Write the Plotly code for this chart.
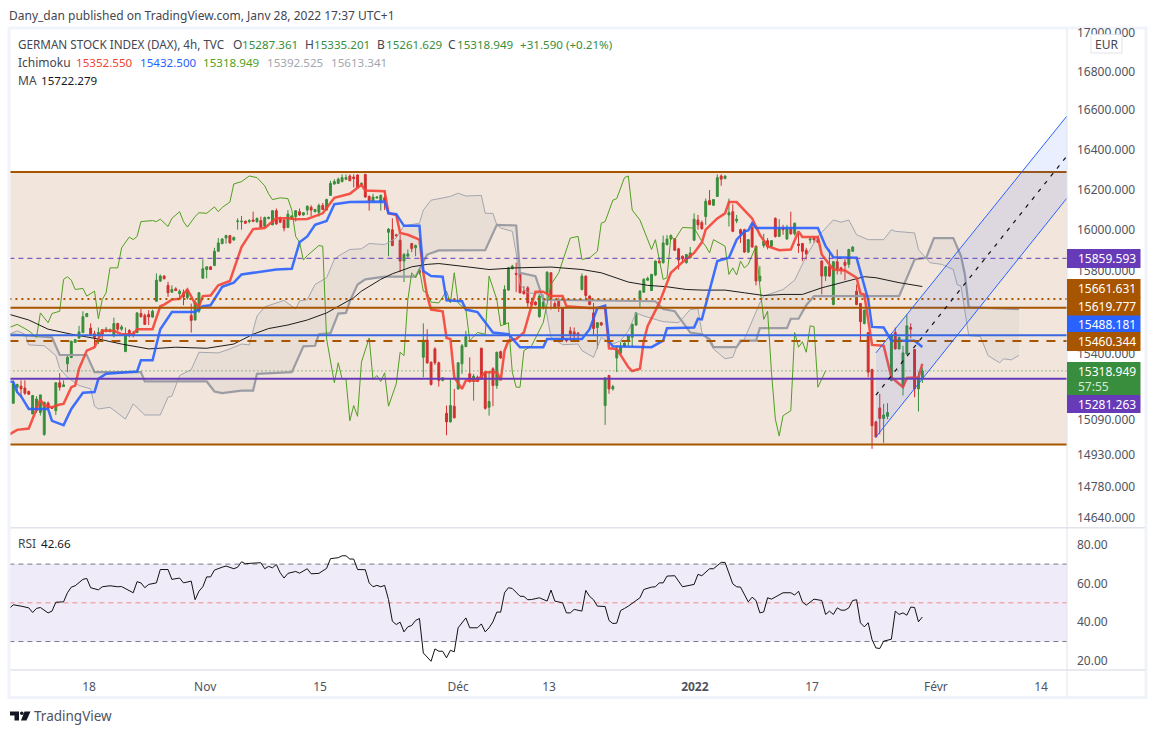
import plotly.graph_objects as go

W, H = 1155, 734
FONT = "Noto Sans"

# ---- candles (4h bars, index = bar number) ----
opens = [
15167,15242,15247,15238,15222,15117,15132,15124,15022,15168,
15148,15132,15263,15245,15352,15382,15454,15475,15501,15577,
15522,15495,15493,15514,15509,15506,15486,15544,15517,15410,
15511,15498,15501,15592,15583,15588,15575,15651,15749,15773,
15728,15695,15711,15687,15692,15668,15583,15561,15603,15763,
15805,15818,15825,15894,15932,15959,15971,15949,16040,16039,
16042,16040,16048,16039,16045,16016,16055,16024,16094,16056,
16048,16011,16056,16065,16089,16073,16097,16111,16089,16086,
16120,16097,16170,16227,16230,16239,16251,16267,16262,16272,
16223,16275,16165,16142,16157,16142,16158,15987,16000,15975,
15948,15846,15870,15932,15911,15800,15383,15465,15360,15423,
15357,15274,15120,15080,15153,15234,15352,15434,15305,15269,
15289,15426,15313,15148,15329,15250,15410,15540,15705,15810,
15786,15781,15700,15716,15647,15647,15577,15619,15692,15789,
15640,15651,15619,15470,15509,15504,15498,15708,15773,15676,
15595,15525,15548,15156,15297,15234,15380,15402,15434,15462,
15478,15537,15659,15695,15753,15703,15778,15846,15838,15927,
15954,15954,15906,15870,15838,15862,15948,16048,16035,16065,
16145,16121,16165,16267,16254,16073,16089,16043,16000,16000,
15890,16011,15919,15749,15922,15946,15919,16056,15967,16008,
15954,16003,15980,15930,15932,15899,15949,15959,15951,15846,
15773,15821,15635,15843,15813,15841,15830,15894,15700,15640,
15544,15501,15325,15080,15145,15096,15106,15274,15501,15423,
15250,15399,15525,15420,15234,15287.361]
highs = [
15274,15258,15274,15274,15226,15206,15200,15206,15172,15175,
15150,15263,15308,15274,15391,15462,15470,15533,15603,15595,
15545,15509,15525,15517,15528,15520,15572,15548,15537,15525,
15517,15509,15599,15614,15592,15608,15611,15786,15781,15778,
15745,15728,15719,15708,15708,15711,15640,15659,15695,15854,
15821,15821,15911,15959,15959,15975,15974,15966,16056,16068,
16045,16052,16089,16060,16065,16065,16065,16097,16105,16065,
16052,16097,16071,16097,16105,16087,16121,16121,16103,16129,
16132,16154,16243,16251,16259,16275,16275,16275,16275,16275,
16235,16278,16170,16178,16165,16175,16194,16008,16056,15980,
15975,15886,15903,15935,15927,15805,15545,15517,15363,15431,
15363,15289,15156,15281,15234,15360,15446,15509,15383,15305,
15297,15429,15316,15313,15336,15410,15415,15728,15818,15828,
15838,15786,15724,15724,15668,15651,15684,15668,15796,15792,
15651,15668,15622,15473,15528,15525,15504,15786,15776,15679,
15643,15551,15551,15289,15300,15253,15438,15457,15454,15493,
15544,15599,15705,15763,15770,15784,15849,15862,15971,15974,
15977,15958,15911,15873,15881,15915,16081,16073,16045,16154,
16197,16152,16275,16275,16270,16154,16126,16073,16005,16005,
15954,16032,15922,15821,15980,15959,15949,16061,16052,16024,
16024,16089,16035,15980,15935,15911,15964,15964,15964,15849,
15821,15903,15846,15903,15818,15857,15906,15919,15732,15643,
15611,15504,15329,15085,15211,15164,15167,15493,15525,15481,
15438,15588,15545,15423,15313,15335.201]
lows = [
15164,15219,15195,15206,15206,15117,15121,15109,15015,15140,
15140,15112,15226,15244,15313,15379,15451,15470,15498,15575,
15486,15431,15446,15470,15501,15501,15478,15509,15509,15410,
15478,15478,15498,15572,15537,15537,15572,15651,15744,15757,
15672,15692,15700,15659,15632,15659,15501,15558,15595,15760,
15762,15804,15821,15891,15928,15932,15932,15946,16000,16000,
16029,16032,16037,16035,16008,16011,16052,16022,16024,16032,
15992,16008,16053,16040,16068,16069,16073,16068,16086,16065,
16097,16097,16170,16223,16227,16235,16246,16243,16210,16207,
16218,16158,16094,16137,16154,16094,16097,15870,15919,15965,
15792,15744,15862,15890,15870,15780,15289,15352,15250,15347,
15245,15270,15018,15077,15096,15231,15305,15431,15263,15179,
15266,15278,15137,15109,15153,15234,15376,15540,15702,15805,
15695,15689,15684,15624,15632,15630,15572,15611,15659,15611,
15614,15599,15457,15454,15462,15462,15470,15703,15651,15632,
15489,15423,15533,15066,15211,15226,15313,15399,15431,15438,
15431,15533,15624,15692,15749,15700,15773,15834,15834,15922,
15951,15896,15805,15838,15834,15859,15945,16000,16000,16024,
16124,16118,16162,16218,16251,16016,15988,16032,15935,15886,
15886,15911,15728,15744,15911,15903,15915,15961,15964,15975,
15951,15975,15971,15886,15846,15854,15932,15935,15935,15684,
15749,15770,15632,15781,15781,15753,15813,15891,15632,15462,
15540,15289,14955,15007,15022,14983,15093,15270,15420,15420,
15203,15395,15473,15195,15128,15261.629]
closes = [
15258,15255,15234,15214,15209,15203,15187,15206,15172,15143,
15143,15263,15242,15253,15383,15459,15467,15504,15577,15592,
15492,15478,15501,15493,15517,15514,15544,15517,15528,15490,
15486,15489,15595,15577,15540,15575,15603,15753,15773,15760,
15692,15708,15703,15700,15672,15705,15559,15647,15692,15809,
15818,15805,15894,15935,15954,15971,15935,15962,16043,16042,
16032,16045,16042,16056,16013,16060,16061,16094,16029,16037,
16008,16077,16068,16094,16073,16084,16116,16097,16100,16120,
16100,16149,16230,16239,16251,16259,16259,16243,16254,16210,
16230,16162,16142,16162,16162,16170,16145,16003,15922,15970,
15846,15878,15881,15907,15922,15790,15465,15357,15255,15357,
15274,15286,15080,15156,15099,15357,15438,15481,15269,15294,
15269,15281,15143,15175,15250,15407,15380,15708,15813,15821,
15781,15692,15687,15643,15635,15634,15676,15647,15792,15663,
15619,15627,15470,15462,15493,15486,15486,15773,15679,15635,
15520,15548,15537,15286,15234,15245,15420,15431,15451,15486,
15540,15595,15700,15757,15762,15781,15846,15838,15935,15954,
15971,15899,15851,15857,15878,15886,16052,16024,16005,16141,
16124,16149,16259,16251,16267,16084,15992,16052,15980,15890,
15951,15915,15749,15773,15943,15915,15946,15967,16005,16000,
16008,15980,16032,15922,15894,15881,15954,15951,15938,15773,
15818,15773,15843,15809,15805,15825,15903,15915,15635,15553,
15608,15313,15062,15010,15096,15112,15124,15486,15423,15478,
15404,15533,15517,15234,15289,15318.949]
bars = list(range(len(opens)))

# ---- Ichimoku lines ----
tenkan_x = [-1,1,4,5,7,8,10,12,13,15,16,17,19,21,23,26,28,31,32,36,38,39,41,43,45,47,48,49,51,53,56,59,62,65,68,71,73,76,80,83,87,90,91,96,97,99,100,102,105,106,107,108,111,112,113,114,116,117,120,122,125,126,127,128,130,132,134,135,137,139,142,143,149,153,154,156,159,160,162,163,164,167,170,173,176,178,179,182,184,185,187,190,191,193,195,198,201,203,204,208,209,212,215,218,219,220,222,225,227,230,231,234,235]
tenkan_y = [15022,15043,15049,15093,15184,15156,15148,15161,15164,15242,15250,15329,15415,15431,15509,15509,15493,15493,15517,15517,15627,15635,15659,15663,15708,15640,15627,15676,15679,15728,15749,15915,16003,16008,16056,16056,16052,16053,16081,16158,16178,16223,16194,16191,16081,16073,15984,15975,15951,15789,15676,15611,15603,15475,15470,15289,15234,15274,15274,15313,15313,15274,15415,15462,15470,15501,15627,15697,15697,15676,15676,15627,15619,15619,15426,15423,15336,15318,15329,15462,15533,15643,15789,15841,15886,15938,16000,16056,16081,16137,16137,16077,16056,15975,15919,15899,15903,15992,15964,15964,15878,15805,15800,15765,15689,15684,15442,15438,15289,15242,15286,15289,15352.55]
kijun_x = [-1,0,1,2,4,9,10,13,15,18,21,22,24,32,33,36,38,41,47,49,51,54,57,59,68,72,74,76,78,81,83,87,96,97,99,101,105,106,108,111,112,116,117,120,124,128,131,137,138,147,149,151,153,154,155,165,168,169,176,177,178,180,182,185,187,189,190,191,192,208,210,212,218,221,222,225,227,233,235]
kijun_y = [15269,15266,15219,15200,15140,15140,15085,15065,15140,15216,15219,15281,15305,15316,15369,15369,15517,15599,15599,15627,15632,15721,15741,15781,15805,15809,15938,15967,16024,16043,16126,16137,16139,16081,16077,16019,16019,15797,15773,15770,15656,15651,15611,15599,15501,15493,15431,15431,15470,15470,15517,15619,15630,15457,15435,15431,15462,15522,15525,15567,15564,15700,15846,15862,15951,15992,15996,16032,16008,16008,15919,15865,15862,15660,15528,15525,15462,15462,15432.5]
chikou_x = [-1,1,3,4,6,7,9,10,12,13,14,15,16,18,19,21,22,23,24,25,27,28,30,31,32,33,36,37,38,40,41,43,44,45,47,48,50,52,53,54,56,57,59,61,63,65,66,67,69,71,72,73,74,75,76,78,79,80,81,83,84,85,86,87,88,89,90,92,93,94,95,96,97,99,100,101,102,103,104,105,106,107,108,110,112,113,114,115,117,118,120,122,123,125,126,128,129,130,131,132,134,137,139,141,143,144,146,147,149,151,152,153,155,156,158,159,160,162,165,166,168,169,170,171,173,176,178,179,180,181,184,185,186,187,188,189,190,192,193,194,195,196,197,198,199,201,202,203,204,205,206,207,208,210]
chikou_y = [15525,15540,15520,15509,15478,15595,15548,15592,15603,15757,15770,15753,15708,15713,15676,15700,15567,15659,15692,15813,15813,15911,15964,15951,15967,16040,16045,16040,16052,16016,16056,16089,16040,16013,16065,16084,16081,16113,16089,16110,16137,16227,16239,16267,16259,16218,16178,16149,16158,16154,16097,15967,15938,15851,15873,15903,15922,15919,15470,15263,15357,15281,15281,15085,15156,15106,15360,15475,15278,15297,15269,15310,15153,15258,15407,15391,15659,15789,15765,15805,15700,15692,15647,15643,15700,15643,15789,15643,15611,15462,15501,15493,15773,15659,15533,15548,15313,15242,15242,15415,15438,15548,15732,15789,15903,15959,15967,15854,15862,15894,16032,16040,16146,16154,16259,16267,16097,16048,15903,15951,15757,15765,15967,15951,16011,16008,15943,15919,15886,15951,15919,15781,15813,15778,15846,15813,15830,15919,15724,15564,15603,15313,15093,15015,15109,15132,15501,15431,15457,15407,15533,15529,15242,15318.949]
span_a_x = [-1,1,3,4,8,11,12,14,17,20,21,22,25,29,31,34,38,40,41,43,46,48,53,56,59,61,63,65,70,73,74,76,78,81,83,84,87,90,92,96,99,101,105,106,108,113,115,117,121,122,124,125,126,129,130,131,133,137,138,139,142,146,147,150,152,155,157,159,161,163,168,172,175,177,178,180,181,184,186,187,189,193,194,199,202,205,208,212,214,216,218,221,225,227,228,233,234,237,240,243,244,245,247,250,252,255,256,258,260]
span_a_y = [15493,15509,15493,15442,15438,15391,15329,15289,15250,15234,15153,15140,15148,15093,15164,15112,15112,15195,15200,15297,15325,15407,15404,15423,15446,15442,15580,15624,15655,15614,15653,15659,15732,15765,15854,15870,15903,15906,15932,15927,15959,16019,16032,16097,16146,16165,16181,16167,16170,16081,16081,16024,16008,15992,15886,15732,15692,15684,15580,15478,15443,15446,15415,15383,15478,15446,15462,15509,15595,15580,15553,15548,15611,15616,15501,15454,15423,15376,15383,15431,15470,15643,15676,15708,15753,15870,15967,16048,16037,16048,15975,15951,15951,16000,15992,15984,15903,15838,15830,15805,15732,15724,15486,15482,15391,15357,15376,15371,15392.525]
span_b_x = [-1,10,12,19,21,33,34,50,52,54,59,62,63,72,75,78,79,82,84,86,87,89,91,96,104,107,110,122,125,130,131,135,137,166,168,171,175,178,180,181,187,188,192,193,200,201,203,205,207,229,233,236,238,243,245,246,247,260]
span_b_y = [15493,15478,15394,15394,15313,15313,15269,15269,15222,15214,15226,15226,15305,15313,15435,15438,15493,15498,15592,15595,15651,15732,15757,15770,15770,15878,15898,15899,16024,16021,15789,15773,15659,15651,15614,15603,15501,15493,15470,15431,15431,15462,15462,15522,15522,15567,15567,15632,15676,15676,15854,15862,15959,15959,15870,15781,15622,15613.341]

# ---- moving average ----
ma_x = [-1,4,9,15,22,28,35,42,50,57,62,66,71,76,81,85,88,90,95,98,103,107,110,116,123,130,139,147,152,159,164,169,174,178,184,189,194,199,204,209,215,220,223,229,235]
ma_y = [15588,15561,15517,15493,15470,15446,15423,15431,15426,15446,15493,15520,15537,15561,15595,15635,15668,15700,15757,15784,15818,15830,15834,15821,15805,15813,15817,15805,15789,15744,15728,15721,15708,15705,15705,15692,15679,15684,15684,15716,15745,15770,15765,15741,15722.279]

# ---- RSI ----
rsi_x = [-1,0,2,4,5,6,7,9,10,11,13,14,15,16,18,19,20,22,23,25,27,28,31,32,33,34,35,37,38,40,41,43,44,46,47,48,49,50,51,52,54,55,57,58,59,60,62,64,65,66,67,68,69,70,71,73,74,76,77,79,81,82,84,85,86,87,88,89,91,92,93,94,95,96,97,98,99,100,101,102,103,104,105,106,108,109,110,111,112,113,114,115,117,118,120,121,122,123,124,125,126,127,128,129,131,132,133,134,136,138,139,140,142,143,144,145,147,148,149,150,151,153,154,155,156,157,158,159,162,163,165,166,167,168,169,171,173,174,176,177,178,180,181,183,184,186,187,188,190,191,192,193,194,195,196,199,201,202,203,204,205,207,209,210,211,212,213,214,215,216,217,218,219,220,221,222,223,224,225,227,228,229,230,231,232,233,234,235]
rsi_y = [47.1,49.0,48.3,47.4,45.0,47.1,47.6,44.8,45.7,50.3,50.5,55.2,58.1,58.8,62.1,62.6,57.8,56.7,58.3,58.8,58.3,58.4,55.2,60.9,60.3,57.8,59.5,60.3,67.2,67.2,62.1,62.8,60.3,61.2,51.6,56.0,58.3,63.4,63.4,66.9,68.4,69.0,67.6,68.4,71.2,70.2,70.5,70.7,67.6,68.8,68.1,69.8,65.5,62.8,65.2,66.2,65.3,67.6,65.0,65.2,67.8,72.8,73.3,74.3,74.3,72.6,72.6,67.2,67.1,60.3,58.3,59.0,58.3,59.0,51.7,40.5,38.8,40.0,35.0,37.6,38.3,40.9,41.9,24.1,19.8,26.2,25.0,25.0,21.6,25.5,24.7,37.1,42.2,37.1,37.1,39.1,35.0,37.1,40.2,45.2,45.2,55.2,57.8,57.4,53.4,53.3,51.6,51.7,52.6,50.9,56.6,50.9,50.0,44.8,44.8,46.6,45.7,56.4,53.3,51.6,48.3,48.1,40.9,39.3,39.5,46.0,47.1,48.3,52.6,56.9,58.1,58.3,60.3,60.3,63.8,64.0,58.3,58.6,59.5,64.7,64.0,67.6,67.6,70.9,70.9,59.8,58.3,58.1,50.5,52.9,51.2,44.8,45.3,52.6,51.9,55.2,55.2,54.0,56.0,50.5,48.8,51.9,51.2,44.0,45.7,44.0,47.4,46.2,46.2,47.4,51.2,51.6,39.7,37.6,39.7,31.0,26.7,26.4,30.2,31.2,45.7,44.0,44.8,43.6,47.8,47.6,40.2,42.66]

# ---- drawn levels and channel ----
zone_top, zone_bottom = 16287, 14975
level_purple_dash = 15859.593
level_brown_dot = 15661.631
level_brown_solid = 15619.777
level_blue = 15488.181
level_brown_dash = 15460.344
level_green_dot = 15318.949
level_purple_solid = 15281.263
channel_x = [223, 272.4]
channel_upper = [15404, 16571]
channel_mid = [15205, 16368]
channel_lower = [15010, 16157]

# ---- axis labels ----
price_ticks = [17000,16800,16600,16400,16200,16000,15800,15400,15090,14930,14780,14640]
rsi_ticks = [80,60,40,20]
date_ticks = [19.6,49.6,79.3,115,138.5,176.2,206.5,238.5,265.7]
date_labels = ["18","Nov","15","Déc","13","<b>2022</b>","17","Févr","14"]

BROWN = "#a85500"; PURPLE = "#673ab7"; BLUE = "#2962ff"; GREEN = "#388e3c"
INK = "#434651"

def px(x): return x / W
def py(y): return 1 - y / H

LEFT, RIGHT, TOP, MID, BOT = 10.5, 1067, 29, 527.7, 670

fig = go.Figure()
XR = [-0.72, 272.4]
X2 = [-1, 273]

# cloud
fig.add_trace(go.Scatter(x=span_a_x, y=span_a_y, mode="lines", line=dict(color="#a3a6af", width=1)))
fig.add_trace(go.Scatter(x=span_b_x, y=span_b_y, mode="lines", line=dict(color="#9b9ca4", width=2.2),
                         fill="tonexty", fillcolor="rgba(120,123,134,0.08)"))
# candles
fig.add_trace(go.Candlestick(x=bars, open=opens, high=highs, low=lows, close=closes, whiskerwidth=0,
    increasing=dict(line=dict(color=GREEN, width=1), fillcolor=GREEN),
    decreasing=dict(line=dict(color="#d32f2f", width=1), fillcolor="#d32f2f")))
# ichimoku lines and MA
fig.add_trace(go.Scatter(x=chikou_x, y=chikou_y, mode="lines", line=dict(color="#4f9f20", width=1)))
fig.add_trace(go.Scatter(x=ma_x, y=ma_y, mode="lines", line=dict(color="#1c1c1c", width=1)))
fig.add_trace(go.Scatter(x=tenkan_x, y=tenkan_y, mode="lines", line=dict(color="rgba(244,67,54,0.9)", width=2.5)))
fig.add_trace(go.Scatter(x=kijun_x, y=kijun_y, mode="lines", line=dict(color="rgba(41,98,255,0.9)", width=2.5)))

# levels
def level(v, color, width, dash="solid"):
    fig.add_trace(go.Scatter(x=X2, y=[v, v], mode="lines", line=dict(color=color, width=width, dash=dash)))
level(zone_top, BROWN, 2)
level(zone_bottom, BROWN, 2)
level(level_purple_dash, PURPLE, 1, "5px,4px")
level(level_brown_dot, BROWN, 2, "2px,4px")
level(level_brown_solid, BROWN, 2)
level(level_blue, "#3a68e0", 2)
level(level_brown_dash, BROWN, 2, "9px,8px")
level(level_green_dot, GREEN, 1, "1px,3px")
level(level_purple_solid, PURPLE, 2)

# channel
fig.add_trace(go.Scatter(x=[channel_x[0], channel_x[1], channel_x[1], channel_x[0]],
                         y=[channel_upper[0], channel_upper[1], channel_lower[1], channel_lower[0]],
                         mode="none", fill="toself", fillcolor="rgba(41,98,255,0.10)"))
fig.add_trace(go.Scatter(x=channel_x, y=channel_upper, mode="lines", line=dict(color=BLUE, width=1)))
fig.add_trace(go.Scatter(x=channel_x, y=channel_lower, mode="lines", line=dict(color=BLUE, width=1)))
fig.add_trace(go.Scatter(x=channel_x, y=channel_mid, mode="lines", line=dict(color="#111111", width=1.2, dash="4px,6px")))

# RSI pane
fig.add_trace(go.Scatter(x=X2 + X2[::-1], y=[70, 70, 30, 30], mode="none", fill="toself",
                         fillcolor="rgba(126,87,194,0.12)", xaxis="x2", yaxis="y2"))
for v, c in ((70, "#787b86"), (50, "#f28b8b"), (30, "#787b86")):
    fig.add_trace(go.Scatter(x=X2, y=[v, v], mode="lines", line=dict(color=c, width=1, dash="5px,4px"),
                             xaxis="x2", yaxis="y2"))
fig.add_trace(go.Scatter(x=rsi_x, y=rsi_y, mode="lines", line=dict(color="#111111", width=1),
                         xaxis="x2", yaxis="y2"))

shapes = []
# zone background
shapes.append(dict(type="rect", xref="x", yref="y", x0=-1, x1=273, y0=zone_bottom, y1=zone_top,
                   fillcolor="#f2e6dc", line=dict(width=0), layer="below"))
# frame
shapes.append(dict(type="rect", xref="paper", yref="paper", x0=px(9), x1=px(1146), y0=py(28), y1=py(697.5),
                   line=dict(color="#f0f3fa", width=3), layer="below"))
for a in (MID, BOT):
    shapes.append(dict(type="line", xref="paper", yref="paper", x0=px(LEFT), x1=px(1145), y0=py(a), y1=py(a),
                       line=dict(color="#e0e3eb", width=1.5)))
shapes.append(dict(type="line", xref="paper", yref="paper", x0=px(RIGHT), x1=px(RIGHT), y0=py(29), y1=py(697),
                   line=dict(color="#e0e3eb", width=1)))
# EUR box
shapes.append(dict(type="rect", xref="paper", yref="paper", x0=px(1091), x1=px(1122), y0=py(34.5), y1=py(53),
                   fillcolor="white", line=dict(color="#e0e3eb", width=1)))

ann = []
def text(x, y, s, color=INK, size=12, anchor="left"):
    ann.append(dict(x=px(x - 2 if anchor == "left" else x), y=py(y), xref="paper", yref="paper", text=s, showarrow=False,
                    xanchor=anchor, yanchor="middle", align="left",
                    font=dict(family=FONT, size=size, color=color)))

# price tags
tags = [(249, 268, PURPLE, "15859.593", 258),
        (279, 298, BROWN, "15661.631", 288.5),
        (297, 316, BROWN, "15619.777", 306.5),
        (315.5, 332.5, BLUE, "15488.181", 324),
        (332, 351, BROWN, "15460.344", 341.5),
        (362, 395, GREEN, "15318.949", 371),
        (395, 413, PURPLE, "15281.263", 404)]
for y0, y1, c, s, ty in tags:
    shapes.append(dict(type="rect", xref="paper", yref="paper", x0=px(RIGHT), x1=px(1140.5), y0=py(y0), y1=py(y1),
                       fillcolor=c, line=dict(width=0), layer="above"))
    text(1078, ty, s, "white")
text(1078, 386, "57:55", "#d5ead6")

text(1106.5, 44.5, "EUR", INK, 12, "center")
text(9, 16, "Dany_dan published on TradingView.com, Janv 28, 2022 17:37 UTC+1", "#434651", 12)

G = "#388e3c"
for x, s, col, size in [(18, "GERMAN STOCK INDEX (DAX), 4h, TVC", INK, 11.7), (233, "O", INK, 12), (242, "15287.361", G, 11.6),
                        (305, "H", INK, 12), (314, "15335.201", G, 11.6), (377, "B", INK, 12), (386, "15261.629", G, 11.6),
                        (448, "C", INK, 12), (457, "15318.949", G, 11.6), (519.5, "+31.590 (+0.21%)", G, 11.6)]:
    text(x, 44, s, col, size)
for x, s, col, size in [(18, "Ichimoku", INK, 12), (76, "15352.550", "#f44336", 11.6), (140, "15432.500", BLUE, 11.6),
                        (203, "15318.949", "#4f9f20", 11.6), (267, "15392.525", "#a3a6af", 11.6), (331, "15613.341", "#a3a6af", 11.6)]:
    text(x, 62, s, col, size)
text(18, 80, "MA", INK); text(41, 80, "15722.279", "#131722", 11.6)
text(18, 543.5, "RSI", INK); text(41, 543.5, "42.66", "#131722", 11.6)
text(34, 716, "TradingView", "#50535e", 13.5)

# TradingView mark
def pth(pts):
    return "M" + " L".join(f"{px(a):.5f},{py(b):.5f}" for a, b in pts) + " Z"
for pts in ([(10, 711.5), (19, 711.5), (19, 720.5), (14.5, 720.5), (14.5, 715.5), (10, 715.5)],
            [(24.5, 711.5), (30.5, 711.5), (26.5, 720.5), (21, 720.5)]):
    shapes.append(dict(type="path", xref="paper", yref="paper", path=pth(pts), fillcolor="#131722", line=dict(width=0)))
shapes.append(dict(type="circle", xref="paper", yref="paper", x0=px(20), x1=px(23.6), y0=py(711.5), y1=py(715.1),
                   fillcolor="#131722", line=dict(width=0)))

tickfont = dict(family=FONT, size=12, color="#50535e")
fig.update_layout(
    width=W, height=H, margin=dict(l=0, r=0, t=0, b=0, autoexpand=False), showlegend=False,
    paper_bgcolor="white", plot_bgcolor="rgba(0,0,0,0)", hovermode=False,
    shapes=shapes, annotations=ann,
    xaxis=dict(domain=[px(LEFT), px(RIGHT)], range=XR, anchor="y", showticklabels=False, showgrid=False,
               zeroline=False, rangeslider=dict(visible=False), ticks=""),
    yaxis=dict(domain=[py(MID), py(TOP)], type="log", range=[4.16424, 4.23098], side="right", anchor="x",
               showgrid=False, zeroline=False, tickmode="array", tickvals=price_ticks,
               ticktext=[f"{v}.000" for v in price_ticks], tickfont=tickfont, ticks="", ticklabelstandoff=9),
    xaxis2=dict(domain=[px(LEFT), px(RIGHT)], range=XR, anchor="y2", showgrid=False, zeroline=False,
                tickmode="array", tickvals=date_ticks, ticktext=date_labels, tickfont=tickfont, ticks="",
                ticklabelstandoff=8),
    yaxis2=dict(domain=[py(BOT), py(MID)], range=[15.3, 88.8], side="right", anchor="x2", showgrid=False,
                zeroline=False, tickmode="array", tickvals=rsi_ticks, ticktext=[f"{v}.00" for v in rsi_ticks],
                tickfont=tickfont, ticks="", ticklabelstandoff=9),
)
fig.write_html("out.html", config=dict(displayModeBar=False),
               post_script="document.body.style.margin='0';document.body.style.overflow='hidden';")
